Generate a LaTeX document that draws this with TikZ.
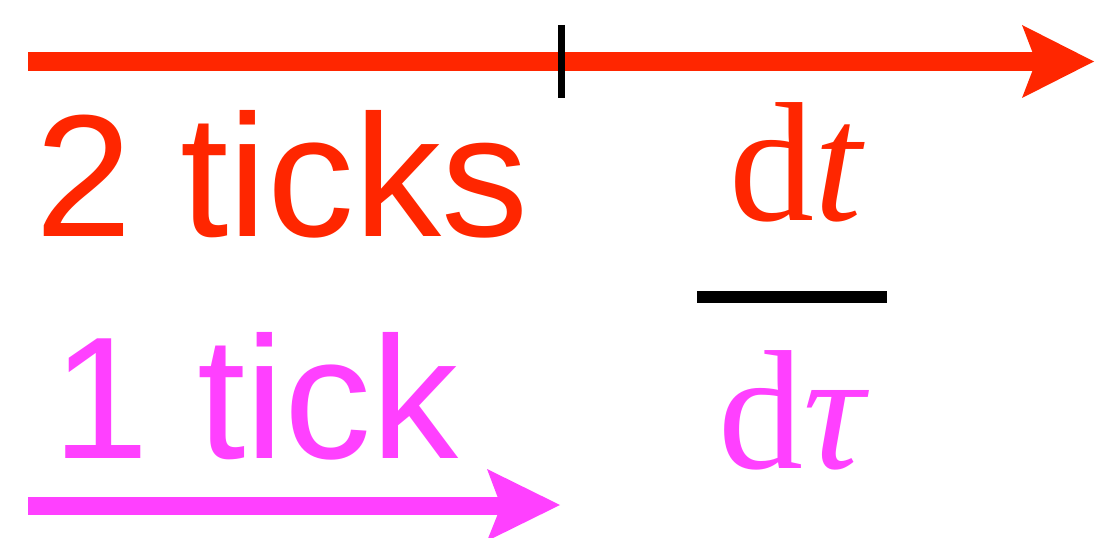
\documentclass[tikz,border=0pt]{standalone}
\usepackage{fontspec}
\setmainfont{Liberation Sans}
\newfontfamily\mathserif{Liberation Serif}
\definecolor{tred}{RGB}{255,38,0}
\definecolor{tmag}{RGB}{255,64,255}
\begin{document}
\begin{tikzpicture}[x=1bp,y=-1bp,
  bigsans/.style={inner sep=0pt, anchor=base west, font=\fontsize{174bp}{200bp}\selectfont},
  bigserif/.style={inner sep=0pt, anchor=base, font=\fontsize{170bp}{200bp}\selectfont\mathserif},
  shaft/.style={line cap=butt}]
\clip (0,0) rectangle (1096,538);
\fill[white] (0,0) rectangle (1096,538);
% red arrow
\coordinate (rs) at (28,61.5);
\coordinate (rn) at (1036,61.5);
\coordinate (rt) at (1094,61.5);
\draw[shaft, tred, line width=19bp] (rs) -- (rn);
\fill[tred] (rt) -- (1022,25) -- (rn) -- (1022,98) -- cycle;
% tick mark
\coordinate (tk1) at (561.5,25);
\coordinate (tk2) at (561.5,98);
\draw[black, line width=7bp] (tk1) -- (tk2);
% magenta arrow
\coordinate (ms) at (28,506);
\coordinate (mn) at (501,506);
\coordinate (mt) at (560,505);
\draw[shaft, tmag, line width=18bp] (ms) -- (mn);
\fill[tmag] (mt) -- (487,469) -- (mn) -- (487,541) -- cycle;
% texts
\node[bigsans, text=tred] (two) at (35,237) {2 ticks};
\node[bigsans, text=tmag] (one) at (52,458) {1 tick};
\node[bigserif, text=tred] (dt) at (797,221) {d\textit{t}};
\node[bigserif, text=tmag] (dtau) at (794,468) {d\textit{τ}};
% fraction bar
\coordinate (fb1) at (697,297);
\coordinate (fb2) at (887,297);
\draw[black, line width=12bp] (fb1) -- (fb2);
\end{tikzpicture}
\end{document}
